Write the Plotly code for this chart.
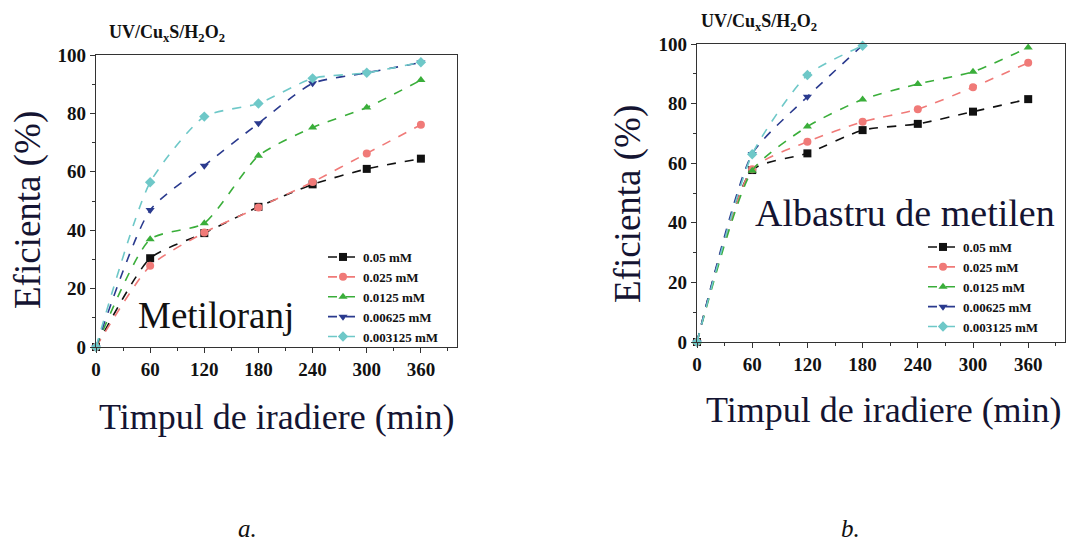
import plotly.graph_objects as go

# ---------------- data ----------------
time_min = [0, 60, 120, 180, 240, 300, 360]
series_names = ["0.05 mM", "0.025 mM", "0.0125 mM", "0.00625 mM", "0.003125 mM"]

# (a) Metiloranj
mo_005 = [0, 30.4, 39.0, 48.0, 55.7, 61.0, 64.5]
mo_0025 = [0, 27.8, 39.2, 47.8, 56.5, 66.3, 76.1]
mo_00125 = [0, 36.9, 42.4, 65.5, 75.2, 82.0, 91.4]
mo_000625 = [0, 46.9, 62.1, 76.6, 90.3, 93.9, 97.4]
mo_0003125 = [0, 56.4, 78.9, 83.4, 92.0, 93.9, 97.5]

# (b) Albastru de metilen
time_short = [0, 60, 120, 180]
mb_005 = [0, 57.7, 63.3, 71.1, 73.2, 77.3, 81.5]
mb_0025 = [0, 58.0, 67.2, 73.9, 78.1, 85.5, 93.7]
mb_00125 = [0, 57.5, 72.3, 81.4, 86.6, 90.7, 98.8]
mb_000625 = [0, 63.1, 82.3, 99.6]
mb_0003125 = [0, 63.0, 89.6, 99.4]

x_ticks = [0, 60, 120, 180, 240, 300, 360]
y_ticks = [0, 20, 40, 60, 80, 100]

colors = ["#111111", "#f07a78", "#3aae3a", "#2a3a8e", "#6ec8c8"]
symbols = ["square", "circle", "triangle-up", "triangle-down", "diamond"]

SERIF = "Liberation Serif"
TXT = "#141432"

fig = go.Figure()

left_data = [(time_min, mo_005), (time_min, mo_0025), (time_min, mo_00125),
             (time_min, mo_000625), (time_min, mo_0003125)]
right_data = [(time_min, mb_005), (time_min, mb_0025), (time_min, mb_00125),
              (time_short, mb_000625), (time_short, mb_0003125)]

for i, (xs, ys) in enumerate(left_data):
    fig.add_trace(go.Scatter(
        x=xs, y=ys, name=series_names[i], mode="lines+markers",
        line=dict(color=colors[i], width=1.6, dash="dash", shape="spline", smoothing=0.6),
        marker=dict(symbol=symbols[i], size=8, color=colors[i]),
        cliponaxis=False, xaxis="x", yaxis="y", legend="legend"))

for i, (xs, ys) in enumerate(right_data):
    fig.add_trace(go.Scatter(
        x=xs, y=ys, name=series_names[i], mode="lines+markers",
        line=dict(color=colors[i], width=1.6, dash="dash", shape="spline", smoothing=0.6),
        marker=dict(symbol=symbols[i], size=8, color=colors[i]),
        cliponaxis=False, xaxis="x2", yaxis="y2", legend="legend2"))

W, H = 1073, 544

def px_x(p):
    return p / W

def px_y(p):
    return 1 - p / H

axis_common = dict(
    showline=True, linecolor="#333333", linewidth=1.2, mirror=True,
    ticks="outside", ticklen=5, tickwidth=1.2, tickcolor="#333333",
    showgrid=False, zeroline=False, automargin=False,
    tickfont=dict(family=SERIF, size=19, color="#111111", weight="bold"),
)

legend_font = dict(family=SERIF, size=13, color="#111111", weight="bold")

fig.update_layout(
    width=W, height=H, autosize=False,
    margin=dict(l=0, r=0, t=0, b=0, pad=0, autoexpand=False),
    paper_bgcolor="white", plot_bgcolor="white",
    showlegend=True,
    xaxis=dict(domain=[px_x(96), px_x(457)], range=[0, 400], anchor="y",
               tickvals=x_ticks, minor=dict(dtick=30, ticks="outside", ticklen=3, tickcolor="#333333"),
               **axis_common),
    yaxis=dict(domain=[px_y(347), px_y(55)], range=[0, 100], anchor="x",
               tickvals=y_ticks, minor=dict(dtick=10, ticks="outside", ticklen=3, tickcolor="#333333"),
               **axis_common),
    xaxis2=dict(domain=[px_x(697), px_x(1065)], range=[0, 400], anchor="y2",
                tickvals=x_ticks, minor=dict(dtick=30, ticks="outside", ticklen=3, tickcolor="#333333"),
                **axis_common),
    yaxis2=dict(domain=[px_y(342), px_y(44)], range=[0, 100], anchor="x2",
                tickvals=y_ticks, minor=dict(dtick=10, ticks="outside", ticklen=3, tickcolor="#333333"),
                **axis_common),
    legend=dict(x=px_x(323), y=px_y(242), xanchor="left", yanchor="top",
                bgcolor="rgba(0,0,0,0)", tracegroupgap=0, itemwidth=30, font=legend_font),
    legend2=dict(x=px_x(923), y=px_y(232), xanchor="left", yanchor="top",
                 bgcolor="rgba(0,0,0,0)", tracegroupgap=0, itemwidth=30, font=legend_font),
)

ann = []
ann.append(dict(text="<b>UV/Cu<sub>x</sub>S/H<sub>2</sub>O<sub>2</sub></b>", x=px_x(107), y=px_y(33),
                xref="paper", yref="paper", xanchor="left", yanchor="middle", showarrow=False,
                font=dict(family=SERIF, size=18, color="#111111")))
ann.append(dict(text="<b>UV/Cu<sub>x</sub>S/H<sub>2</sub>O<sub>2</sub></b>", x=px_x(699), y=px_y(23),
                xref="paper", yref="paper", xanchor="left", yanchor="middle", showarrow=False,
                font=dict(family=SERIF, size=18, color="#111111")))
ann.append(dict(text="Eficienta (%)", x=px_x(28), y=px_y(210), textangle=-90,
                xref="paper", yref="paper", xanchor="center", yanchor="middle", showarrow=False,
                font=dict(family=SERIF, size=37, color=TXT)))
ann.append(dict(text="Eficienta (%)", x=px_x(628), y=px_y(204), textangle=-90,
                xref="paper", yref="paper", xanchor="center", yanchor="middle", showarrow=False,
                font=dict(family=SERIF, size=37, color=TXT)))
ann.append(dict(text="Timpul de iradiere (min)", x=px_x(277), y=px_y(417),
                xref="paper", yref="paper", xanchor="center", yanchor="middle", showarrow=False,
                font=dict(family=SERIF, size=36, color=TXT)))
ann.append(dict(text="Timpul de iradiere (min)", x=px_x(884), y=px_y(410),
                xref="paper", yref="paper", xanchor="center", yanchor="middle", showarrow=False,
                font=dict(family=SERIF, size=36, color=TXT)))
ann.append(dict(text="Metiloranj", x=px_x(136), y=px_y(315),
                xref="paper", yref="paper", xanchor="left", yanchor="middle", showarrow=False,
                font=dict(family=SERIF, size=37, color="#111111")))
ann.append(dict(text="Albastru de metilen", x=px_x(753), y=px_y(213),
                xref="paper", yref="paper", xanchor="left", yanchor="middle", showarrow=False,
                font=dict(family=SERIF, size=38, color=TXT)))
ann.append(dict(text="<i>a.</i>", x=px_x(247), y=0,
                xref="paper", yref="paper", xanchor="center", yanchor="bottom", showarrow=False,
                font=dict(family=SERIF, size=25, color="#111111")))
ann.append(dict(text="<i>b.</i>", x=px_x(850), y=0,
                xref="paper", yref="paper", xanchor="center", yanchor="bottom", showarrow=False,
                font=dict(family=SERIF, size=25, color="#111111")))

fig.update_layout(annotations=ann)

fig.write_html("out.html")
